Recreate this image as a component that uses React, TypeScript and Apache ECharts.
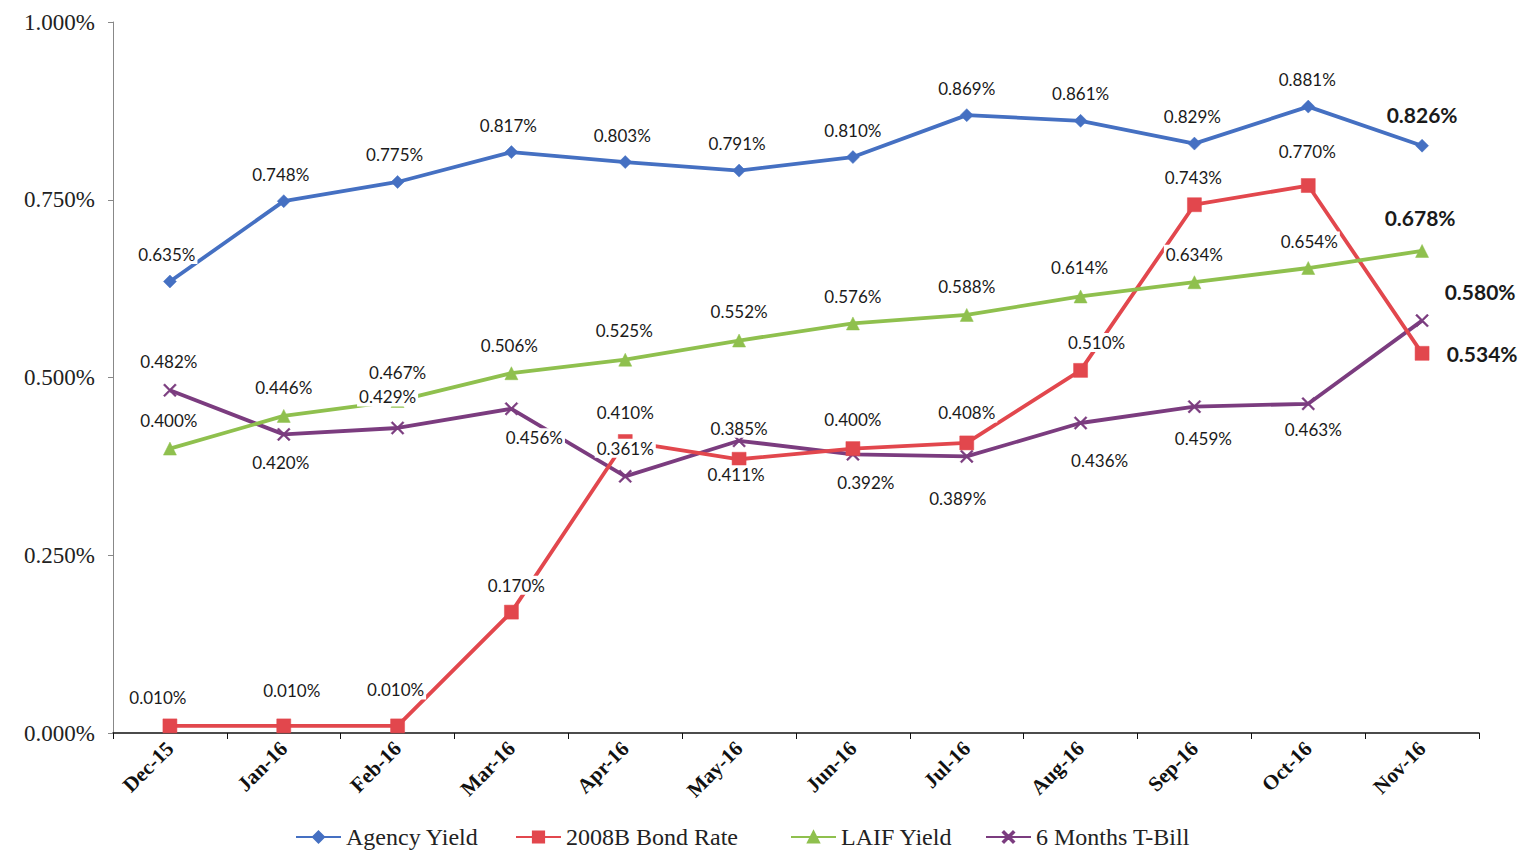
import React, { useEffect, useRef } from "react";
import * as echarts from "echarts";

const categories = ["Dec-15", "Jan-16", "Feb-16", "Mar-16", "Apr-16", "May-16", "Jun-16", "Jul-16", "Aug-16", "Sep-16", "Oct-16", "Nov-16"];
const agencyYield = [0.635, 0.748, 0.775, 0.817, 0.803, 0.791, 0.81, 0.869, 0.861, 0.829, 0.881, 0.826];
const bondRate = [0.01, 0.01, 0.01, 0.17, 0.41, 0.385, 0.4, 0.408, 0.51, 0.743, 0.77, 0.534];
const laifYield = [0.4, 0.446, 0.467, 0.506, 0.525, 0.552, 0.576, 0.588, 0.614, 0.634, 0.654, 0.678];
const tBill = [0.482, 0.42, 0.429, 0.456, 0.361, 0.411, 0.392, 0.389, 0.436, 0.459, 0.463, 0.58];
const seriesNames = ["Agency Yield", "2008B Bond Rate", "LAIF Yield", "6 Months T-Bill"];

// label placement (offset of each label centre from its point, px)
const agencyOff = [[-3, -27], [-3, -27], [-3, -27], [-3, -27], [-3, -27], [-2, -27], [0, -27], [0, -27], [0, -27], [-2, -27], [-1, -27], [0, -31]];
const bondOff = [[-12, -28], [8, -35], [-2, -36], [5, -27], [0, -29], [0, -31], [0, -29], [0, -30], [16, -28], [-1, -27], [-1, -34], [60, 0]];
const laifOff = [[-1, -28], [0, -28], [0, -28], [-2, -28], [-1, -29], [0, -29], [0, -27], [0, -28], [-1, -29], [0, -28], [1, -27], [-2, -33]];
const tBillOff = [[-1, -29], [-3, 28], [-10, -31], [23, 29], [0, -28], [-3, 34], [13, 28], [-9, 42], [19, 37], [9, 32], [5, 26], [58, -29]];

const COLORS = ["#4570c2", "#e2474d", "#8fc04e", "#7b3c7f"];
const X_PATH = "path://M0,1L1,0L5,4L9,0L10,1L6,5L10,9L9,10L5,6L1,10L0,9L4,5Z";

function buildData(values: number[], offs: number[][]) {
  return values.map((v, i) => {
    const last = i === values.length - 1;
    return {
      value: v,
      label: {
        offset: offs[i],
        ...(last ? { fontWeight: "bold", fontSize: 21 } : {}),
      },
    };
  });
}

export default function App() {
  const ref = useRef<HTMLDivElement>(null);
  useEffect(() => {
    document.body.style.margin = "0";
    const chart = echarts.init(ref.current!, undefined, { renderer: "svg" });
    const labelBase = {
      show: true,
      position: "inside",
      formatter: (p: any) => Number(p.value).toFixed(3) + "%",
      fontFamily: "Lato",
      fontSize: 17,
      color: "#1a1a1a",
      backgroundColor: "#ffffff",
      padding: [1, 2],
    };
    const mk = (idx: number, values: number[], offs: number[][], symbol: string, size: number) => ({
      name: seriesNames[idx],
      type: "line",
      data: buildData(values, offs),
      symbol,
      symbolSize: size,
      lineStyle: { color: COLORS[idx], width: 3.8 },
      itemStyle: { color: COLORS[idx], borderColor: COLORS[idx], borderWidth: 0.5 },
      label: labelBase,
      emphasis: { disabled: true },
    });
    const legendBase = {
      top: 820,
      itemWidth: 45,
      itemHeight: 14,
      textStyle: { fontFamily: "Liberation Serif", fontSize: 24, color: "#222" },
      itemGap: 0,
    };
    chart.setOption({
      animation: false,
      backgroundColor: "#ffffff",
      color: COLORS,
      grid: { left: 113, right: 48, top: 22, bottom: 121, containLabel: false, outerBoundsMode: "none" },
      legend: [
        { ...legendBase, left: 290, data: [seriesNames[0]] },
        { ...legendBase, left: 510, data: [seriesNames[1]] },
        { ...legendBase, left: 785, data: [seriesNames[2]] },
        { ...legendBase, left: 980, data: [seriesNames[3]] },
      ],
      xAxis: {
        type: "category",
        data: categories,
        boundaryGap: true,
        axisLine: { show: true, lineStyle: { color: "#111", width: 1.5 } },
        axisTick: { show: true, length: 6, lineStyle: { color: "#111" } },
        axisLabel: {
          rotate: 45,
          margin: 12,
          fontFamily: "Liberation Serif",
          fontWeight: "bold",
          fontSize: 21,
          color: "#111",
          interval: 0,
        },
        splitLine: { show: false },
      },
      yAxis: {
        type: "value",
        min: 0,
        max: 1,
        interval: 0.25,
        axisLine: { show: true, lineStyle: { color: "#888", width: 1 } },
        axisTick: { show: true, length: 5, lineStyle: { color: "#888" } },
        axisLabel: {
          formatter: (v: number) => v.toFixed(3) + "%",
          fontFamily: "Liberation Serif",
          fontSize: 23,
          color: "#222",
          margin: 18,
        },
        splitLine: { show: false },
      },
      series: [
        mk(3, tBill, tBillOff, X_PATH, 13),
        mk(1, bondRate, bondOff, "rect", 14),
        mk(2, laifYield, laifOff, "triangle", 13),
        mk(0, agencyYield, agencyOff, "diamond", 13),
      ],
    });
    return () => chart.dispose();
  }, []);
  return <div ref={ref} style={{ width: 1527, height: 854 }} />;
}
